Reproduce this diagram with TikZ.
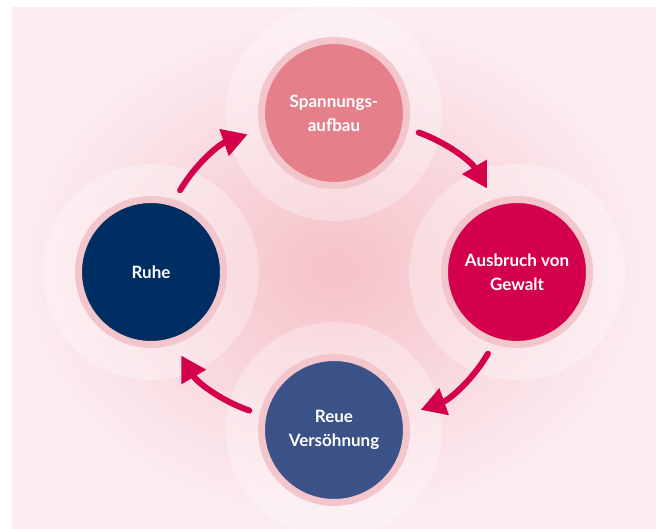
\documentclass[tikz,border=0pt]{standalone}
\usepackage{fontspec}
\setmainfont{Lato}
\usetikzlibrary{arrows.meta,positioning}

\definecolor{bgouter}{RGB}{252,237,242}
\definecolor{bgcenter}{RGB}{245,194,200}
\definecolor{ringpink}{RGB}{243,198,204}
\definecolor{phaserose}{RGB}{229,128,138}
\definecolor{phasecrimson}{RGB}{212,0,75}
\definecolor{phasenavy}{RGB}{0,45,98}
\definecolor{phaseblue}{RGB}{58,82,135}

\tikzset{
  phase/.style={
    circle,
    minimum size=145pt,
    inner sep=0pt,
    draw=ringpink,
    line width=7pt,
    text=white,
    align=center,
    font=\bfseries\fontsize{17}{24}\selectfont
  },
  phase-rose/.style={phase, fill=phaserose},
  phase-crimson/.style={phase, fill=phasecrimson},
  phase-navy/.style={phase, fill=phasenavy},
  phase-blue/.style={phase, fill=phaseblue},
  halo/.style={fill=white, fill opacity=0.3},
  cycle-arrow/.style={
    draw=phasecrimson,
    line width=6pt,
    line cap=round,
    -{Triangle[length=25pt,width=27pt]},
    shorten <=11pt,
    shorten >=13pt
  }
}

\begin{document}
\begin{tikzpicture}[x=1pt,y=1pt]
  \useasboundingbox (0,0) rectangle (656,529);

  % pink backdrop, darker towards the middle
  \shade[inner color=bgcenter, outer color=bgouter] (12,0) rectangle (656,521);

  % soft discs behind the phases
  \foreach \p in {(334,416),(517,257),(151,257),(334,99)}{
    \fill[halo] \p circle (108);
  }

  % the four phases
  \node[phase-rose]    (aufbau)    at (334,416) {Spannungs-\\aufbau};
  \node[phase-crimson] (ausbruch)  at (517,257) {Ausbruch von\\Gewalt};
  \node[phase-blue]    (reue)      at (334,99)  {Reue\\Versöhnung};
  \node[phase-navy]    (ruhe)      at (151,257) {Ruhe};

  % cycle
  \draw[cycle-arrow] (ruhe.72)      to[bend left=20] (aufbau.193);
  \draw[cycle-arrow] (aufbau.-12)   to[bend left=20] (ausbruch.108);
  \draw[cycle-arrow] (ausbruch.252) to[bend left=20] (reue.12);
  \draw[cycle-arrow] (reue.168)     to[bend left=20] (ruhe.288);

\end{tikzpicture}
\end{document}
